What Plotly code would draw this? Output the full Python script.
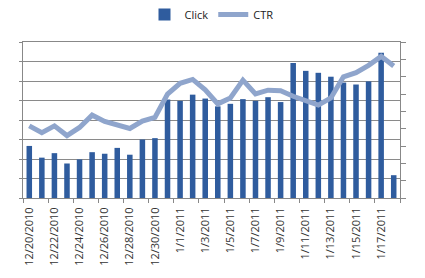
import plotly.graph_objects as go

dates = ["12/20/2010", "12/21/2010", "12/22/2010", "12/23/2010", "12/24/2010",
         "12/25/2010", "12/26/2010", "12/27/2010", "12/28/2010", "12/29/2010",
         "12/30/2010", "12/31/2010", "1/1/2011", "1/2/2011", "1/3/2011",
         "1/4/2011", "1/5/2011", "1/6/2011", "1/7/2011", "1/8/2011",
         "1/9/2011", "1/10/2011", "1/11/2011", "1/12/2011", "1/13/2011",
         "1/14/2011", "1/15/2011", "1/16/2011", "1/17/2011", "1/18/2011"]

clicks = [2.67, 2.07, 2.3, 1.77, 1.98, 2.35, 2.27, 2.57, 2.22, 3.0,
          3.07, 5.05, 4.98, 5.3, 5.1, 4.7, 4.83, 5.07, 4.98, 5.17,
          4.92, 6.92, 6.52, 6.42, 6.22, 5.92, 5.82, 5.98, 7.45, 1.17]

ctr = [4.16, 3.77, 4.16, 3.6, 4.07, 4.78, 4.42, 4.2, 4.01, 4.44,
       4.65, 6.0, 6.62, 6.84, 6.24, 5.43, 5.77, 6.8, 6.0, 6.22,
       6.19, 5.87, 5.59, 5.36, 5.77, 6.99, 7.23, 7.65, 8.17, 7.61]

fig = go.Figure()
fig.add_trace(go.Bar(x=dates, y=clicks, name="Click",
                     marker=dict(color="#2F5C9E", line=dict(width=0))))
fig.add_trace(go.Scatter(x=dates, y=ctr, name="CTR", yaxis="y2", mode="lines",
                         line=dict(color="#8FA5CC", width=5)))

fig.update_layout(
    width=425, height=278,
    margin=dict(l=23, r=25, t=39, b=79),
    paper_bgcolor="white", plot_bgcolor="white",
    bargap=0.56,
    font=dict(family="Open Sans", size=11, color="#333333"),
    showlegend=True,
    legend=dict(orientation="h", x=0.5, xanchor="center", y=1.0, yanchor="top",
                yref="container", font=dict(size=11, color="#222222"),
                itemwidth=30, tracegroupgap=0),
    xaxis=dict(type="category", tickangle=-90, dtick=2, ticks="outside",
               tickson="boundaries", ticklen=4, tickcolor="#888888",
               showline=True, linecolor="#888888", linewidth=1, mirror=True,
               ticklabelstandoff=4,
               showgrid=False, tickfont=dict(size=11, color="#333333")),
    yaxis=dict(range=[0, 8], dtick=1, showticklabels=False, ticks="outside",
               ticklen=3, tickcolor="#888888", showgrid=True, gridcolor="#8A8A8A",
               gridwidth=1, showline=True, linecolor="#888888", zeroline=False),
    yaxis2=dict(range=[0, 9], dtick=1, overlaying="y", side="right",
                showticklabels=False, ticks="outside", ticklen=5,
                tickcolor="#888888", showgrid=False, showline=True,
                linecolor="#888888", zeroline=False),
)

fig.write_html("out.html")
